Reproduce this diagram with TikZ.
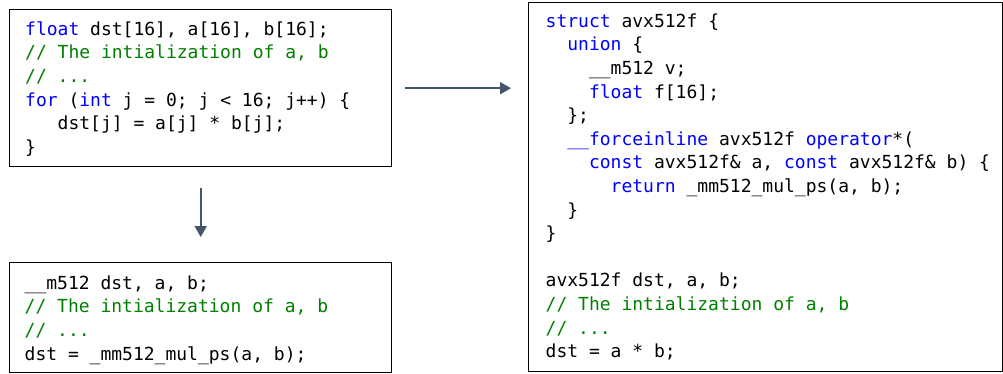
\documentclass[tikz,border=0pt]{standalone}
\usepackage{fontspec}
\usetikzlibrary{arrows.meta}
\newfontfamily\codefont{DejaVu Sans Mono}
\definecolor{kwblue}{HTML}{0000FF}
\definecolor{cmtgreen}{HTML}{008000}
\definecolor{arrowgray}{HTML}{44546A}
% keyword, comment, indentation and first-line strut helpers
\newcommand\kw[1]{\textcolor{kwblue}{#1}}
\newcommand\cm[1]{\textcolor{cmtgreen}{#1}}
\newcommand\ind[1]{\hspace*{#1\dimexpr0.60205em\relax}}
\newcommand\topstrut{\rule{0pt}{14pt}}
\tikzset{
  codebox/.style={draw=black, line width=1.4pt, fill=white, rectangle,
    anchor=north west, inner sep=0pt},
  code/.style={anchor=north west, inner sep=0pt, align=left,
    font=\codefont\fontsize{18}{23.6}\selectfont},
  flow/.style={draw=arrowgray, line width=2pt,
    -{Triangle[length=11pt,width=12pt]}},
}
\begin{document}
\begin{tikzpicture}[x=1pt, y=-1pt]
\useasboundingbox (0,0) rectangle (1003,373);

% scalar loop
\node (loop) [codebox, minimum width=382pt, minimum height=157pt] at (9,9) {};
\node (looptext) [code] at (25,21) {%
\topstrut\kw{float} dst[16], a[16], b[16];\\
\cm{// The intialization of a, b}\\
\cm{// ...}\\
\kw{for} (\kw{int} j = 0; j < 16; j++) \{\\
\ind{3}dst[j] = a[j] * b[j];\\
\}};

% intrinsic version
\node (intr) [codebox, minimum width=382pt, minimum height=110pt] at (9,262) {};
\node (intrtext) [code] at (24.5,275) {%
\topstrut\_\_m512 dst, a, b;\\
\cm{// The intialization of a, b}\\
\cm{// ...}\\
dst = \_mm512\_mul\_ps(a, b);};

% wrapper struct version
\node (wrap) [codebox, minimum width=474pt, minimum height=369pt] at (528,2) {};
\node (wraptext) [code] at (545.5,13) {%
\topstrut\kw{struct} avx512f \{\\
\ind{2}\kw{union} \{\\
\ind{4}\_\_m512 v;\\
\ind{4}\kw{float} f[16];\\
\ind{2}\};\\
\ind{2}\kw{\_\_forceinline} avx512f \kw{operator}*(\\
\ind{4}\kw{const} avx512f\& a, \kw{const} avx512f\& b) \{\\
\ind{6}\kw{return} \_mm512\_mul\_ps(a, b);\\
\ind{2}\}\\
\}\\
\mbox{}\\
avx512f dst, a, b;\\
\cm{// The intialization of a, b}\\
\cm{// ...}\\
dst = a * b;};

% connectors
\draw[flow, shorten <=13pt, shorten >=17pt] (loop.east) -- (loop.east -| wrap.west);
\draw[flow, shorten <=21pt, shorten >=25pt] (loop.south) -- (intr.north);
\end{tikzpicture}
\end{document}
